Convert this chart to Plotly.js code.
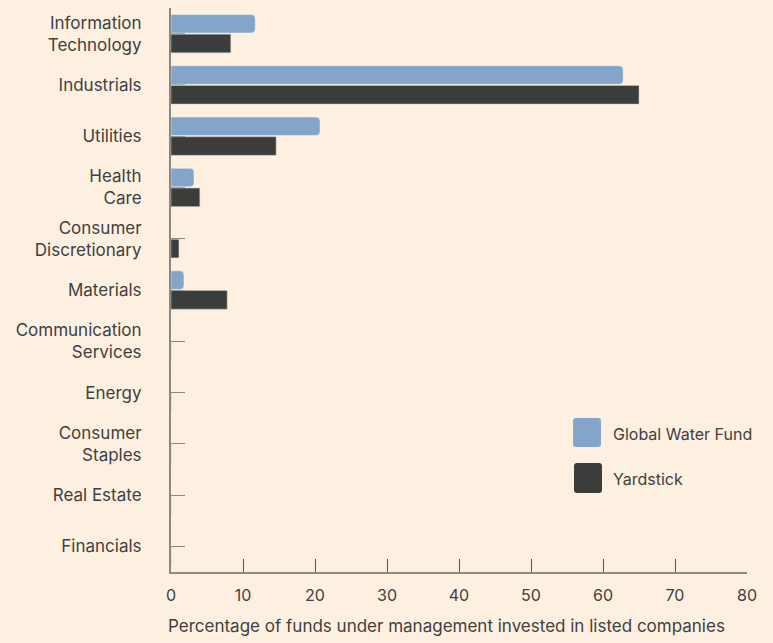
<!DOCTYPE html>
<html>
<head>
<meta charset="utf-8">
<script src="https://cdn.plot.ly/plotly-3.0.1.min.js"></script>
<style>
html,body{margin:0;padding:0;background:#FEF0E1;}
#chart{width:773px;height:643px;}
</style>
</head>
<body>
<div id="chart"></div>
<script>
const categories = [
  "Information<br>Technology",
  "Industrials",
  "Utilities",
  "Health<br>Care",
  "Consumer<br>Discretionary",
  "Materials",
  "Communication<br>Services",
  "Energy",
  "Consumer<br>Staples",
  "Real Estate",
  "Financials"
];
const globalWaterFund = [11.7, 62.8, 20.7, 3.2, 0, 1.8, 0, 0, 0, 0, 0];
const yardstick = [8.3, 65.0, 14.6, 4.0, 1.1, 7.8, 0, 0, 0, 0, 0];
const xTicks = [0, 10, 20, 30, 40, 50, 60, 70, 80];
const seriesNames = ["Global Water Fund", "Yardstick"];
const xTitle = "Percentage of funds under management invested in listed companies";

const BG = "#FEF0E1";
const BLUE = "#82A5C9";
const DARK = "#3B3D3A";
const TEXT = "#404040";
const FONT = "Inter, 'Liberation Sans', sans-serif";

const W = 773, H = 643;
const M = {l: 171, r: 26, t: 8, b: 71};
const pw = W - M.l - M.r, ph = H - M.t - M.b;
function px2x(p){ return (p - M.l) / pw; }
function py2y(p){ return (H - M.b - p) / ph; }
function roundRect(x0, y0, x1, y1, r){
  const X = v => px2x(v).toFixed(5), Y = v => py2y(v).toFixed(5);
  return `M${X(x0+r)},${Y(y0)} L${X(x1-r)},${Y(y0)} Q${X(x1)},${Y(y0)} ${X(x1)},${Y(y0+r)} ` +
         `L${X(x1)},${Y(y1-r)} Q${X(x1)},${Y(y1)} ${X(x1-r)},${Y(y1)} ` +
         `L${X(x0+r)},${Y(y1)} Q${X(x0)},${Y(y1)} ${X(x0)},${Y(y1-r)} ` +
         `L${X(x0)},${Y(y0+r)} Q${X(x0)},${Y(y0)} ${X(x0+r)},${Y(y0)} Z`;
}

const traces = [
  {
    type: "bar", orientation: "h", name: seriesNames[0],
    y: categories, x: globalWaterFund,
    marker: {color: BLUE, cornerradius: 4, line: {color: "rgba(255,255,255,0.45)", width: 1}},
    hoverinfo: "x+y", showlegend: false
  },
  {
    type: "bar", orientation: "h", name: seriesNames[1],
    y: categories, x: yardstick,
    marker: {color: DARK, line: {color: "rgba(200,200,200,0.5)", width: 1}},
    hoverinfo: "x+y", showlegend: false
  }
];

const layout = {
  width: W, height: H,
  margin: M,
  paper_bgcolor: BG, plot_bgcolor: BG,
  font: {family: FONT, size: 17, color: TEXT},
  barmode: "group",
  bargap: 0.23,
  bargroupgap: 0.06,
  showlegend: false,
  xaxis: {
    range: [0, 80],
    tickvals: xTicks,
    ticktext: xTicks.map(String),
    ticks: "inside", ticklen: 13, tickwidth: 1, tickcolor: "#555",
    showline: true, linecolor: "#8C8782", linewidth: 2,
    showgrid: false, zeroline: false,
    ticklabelstandoff: 8,
    tickfont: {family: FONT, size: 16, color: TEXT},
    fixedrange: true
  },
  yaxis: {
    type: "category",
    range: [10.5, -0.5],
    ticks: "inside", ticklen: 14, tickwidth: 1, tickcolor: "#8C8782",
    showline: true, linecolor: "#8C8782", linewidth: 2,
    showgrid: false, zeroline: false,
    ticklabelstandoff: 24,
    tickfont: {family: FONT, size: 17, color: TEXT},
    layer: "below traces",
    fixedrange: true
  },
  shapes: [
    {type: "path", xref: "paper", yref: "paper", path: roundRect(573, 418, 601, 447, 3), fillcolor: BLUE, line: {width: 0}},
    {type: "path", xref: "paper", yref: "paper", path: roundRect(574, 463, 602, 493, 3), fillcolor: DARK, line: {width: 0}}
  ],
  annotations: [
    {xref: "paper", yref: "paper", x: px2x(611), y: py2y(434), xanchor: "left", yanchor: "middle",
     text: seriesNames[0], showarrow: false, font: {family: FONT, size: 16, color: TEXT}},
    {xref: "paper", yref: "paper", x: px2x(611), y: py2y(479), xanchor: "left", yanchor: "middle",
     text: seriesNames[1], showarrow: false, font: {family: FONT, size: 16, color: TEXT}},
    {xref: "paper", yref: "paper", x: px2x(166), y: py2y(626), xanchor: "left", yanchor: "middle",
     text: xTitle, showarrow: false, font: {family: FONT, size: 17, color: TEXT}}
  ]
};

Plotly.newPlot("chart", traces, layout, {displayModeBar: false, staticPlot: true});
</script>
</body>
</html>
